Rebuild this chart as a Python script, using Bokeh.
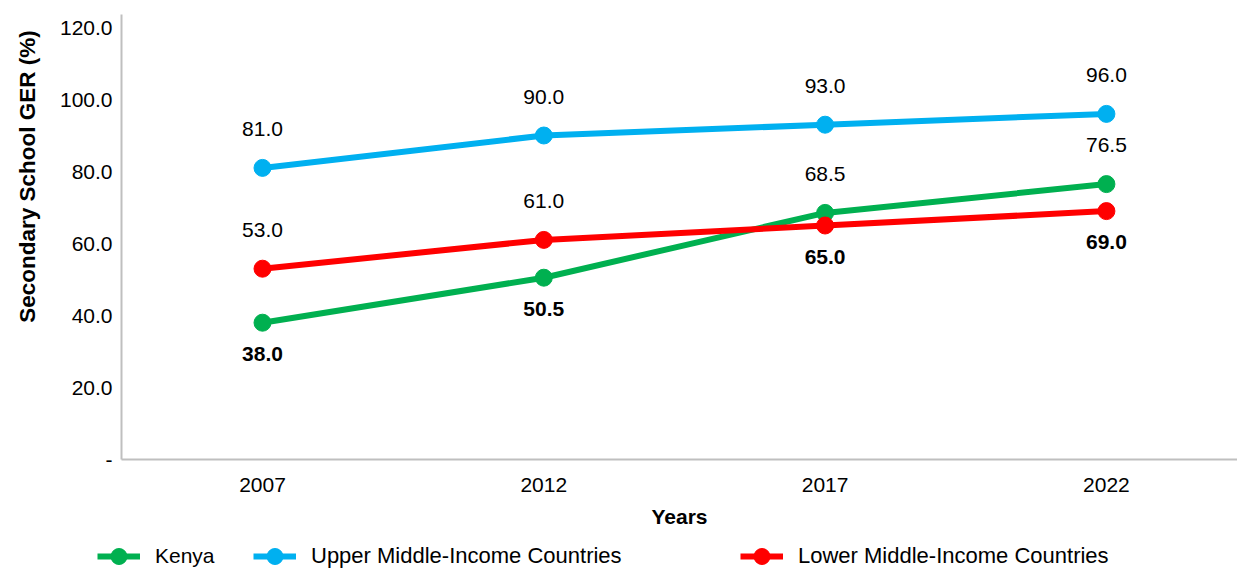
import math
from bokeh.plotting import figure
from bokeh.models import (ColumnDataSource, LabelSet, Label, Legend, LegendItem, FixedTicker,
                          Range1d, LinearAxis)
from bokeh.core.properties import value
from bokeh.embed import file_html
from bokeh.resources import INLINE

years = ["2007", "2012", "2017", "2022"]
kenya = [38.0, 50.5, 68.5, 76.5]
upper_mic = [81.0, 90.0, 93.0, 96.0]
lower_mic = [53.0, 61.0, 65.0, 69.0]
y_ticks = [0, 20, 40, 60, 80, 100, 120]
y_tick_labels = ["-", "20.0", "40.0", "60.0", "80.0", "100.0", "120.0"]

# label placement per series: True = above point, False = below (bold)
kenya_above = [False, False, True, True]
upper_above = [True, True, True, True]
lower_above = [True, True, False, False]

FONT = "Liberation Sans"
xs = list(range(len(years)))

X0, X1 = -0.9314, 3.466      # visible x extent
XAX = -0.5012                # where the y axis sits
Y0, Y1 = -31.11, 127.5       # visible y extent
YTOP = 123.6                 # top of the y axis line

p = figure(width=1237, height=571, output_backend="svg", toolbar_location=None,
           x_range=Range1d(X0, X1), y_range=Range1d(Y0, Y1),
           x_axis_location=None, y_axis_location=None,
           min_border=0, min_border_left=0, min_border_right=0,
           min_border_top=0, min_border_bottom=0)
p.outline_line_color = None
p.grid.visible = False
p.background_fill_color = "white"

series = [
    ("Kenya", kenya, "#00B050", kenya_above),
    ("Upper Middle-Income Countries", upper_mic, "#00B0F0", upper_above),
    ("Lower Middle-Income Countries", lower_mic, "#FF0000", lower_above),
]

renderers = {}
above = dict(x=[], y=[], t=[])
below = dict(x=[], y=[], t=[])
for name, vals, col, ab in series:
    src = ColumnDataSource(dict(x=xs, y=vals))
    l = p.line("x", "y", source=src, line_color=col, line_width=6)
    s = p.scatter("x", "y", source=src, size=17, fill_color=col, line_color=col)
    renderers[name] = [l, s]
    for xi, v, a in zip(xs, vals, ab):
        d = above if a else below
        d["x"].append(xi)
        d["y"].append(v)
        d["t"].append(f"{v:.1f}")

p.add_layout(LabelSet(x="x", y="y", text="t", source=ColumnDataSource(above),
                      text_align="center", text_baseline="middle", y_offset=39,
                      text_font=value(FONT), text_font_size="21px", text_color="black"))
p.add_layout(LabelSet(x="x", y="y", text="t", source=ColumnDataSource(below),
                      text_align="center", text_baseline="middle", y_offset=-31,
                      text_font=value(FONT), text_font_size="21px", text_font_style="bold",
                      text_color="black"))

# axes drawn at fixed data locations inside the canvas
xaxis = LinearAxis(fixed_location=0, bounds=(XAX, X1),
                   ticker=FixedTicker(ticks=xs),
                   major_label_overrides={i: y for i, y in enumerate(years)},
                   axis_label="Years")
yaxis = LinearAxis(fixed_location=XAX, bounds=(0, YTOP),
                   ticker=FixedTicker(ticks=y_ticks),
                   major_label_overrides={t: l for t, l in zip(y_ticks, y_tick_labels)})
for ax in (xaxis, yaxis):
    ax.axis_line_color = "#BFBFBF"
    ax.axis_line_width = 2
    ax.major_tick_line_color = None
    ax.minor_tick_line_color = None
    ax.major_tick_out = 0
    ax.major_tick_in = 0
    ax.minor_tick_out = 0
    ax.minor_tick_in = 0
    ax.major_label_text_font = FONT
    ax.major_label_text_font_size = "21px"
    ax.major_label_text_color = "black"
    ax.axis_label_text_font = FONT
    ax.axis_label_text_font_style = "bold"
    ax.axis_label_text_color = "black"
xaxis.axis_label_text_font_size = "21px"
xaxis.major_label_standoff = 18
xaxis.axis_label_standoff = 10
yaxis.major_label_standoff = 9
p.add_layout(xaxis, "below")
p.add_layout(yaxis, "left")

# y axis title, placed like the reference (not centred on the axis)
p.add_layout(Label(x=27, y=571 - 176, x_units="screen", y_units="screen",
                   text="Secondary School GER (%)", angle=math.pi / 2,
                   text_align="center", text_baseline="middle",
                   text_font=FONT, text_font_size="22.5px", text_font_style="bold",
                   text_color="black"))

# legends, one per entry, near the bottom edge (screen offsets from frame bottom-left)
legend_x = {"Kenya": 97, "Upper Middle-Income Countries": 253, "Lower Middle-Income Countries": 740}
legend_fs = {"Kenya": "21px", "Upper Middle-Income Countries": "22px",
             "Lower Middle-Income Countries": "22px"}
for name, _, _, _ in series:
    lg = Legend(items=[LegendItem(label=name, renderers=renderers[name])],
                location=(legend_x[name], -5), orientation="horizontal",
                glyph_width=43, glyph_height=40, label_standoff=15,
                padding=0, margin=0, spacing=0,
                border_line_color=None, background_fill_alpha=0,
                label_text_font=FONT, label_text_font_size=legend_fs[name],
                label_text_color="black")
    p.add_layout(lg, "center")

open("out.html", "w").write(file_html(p, INLINE))
